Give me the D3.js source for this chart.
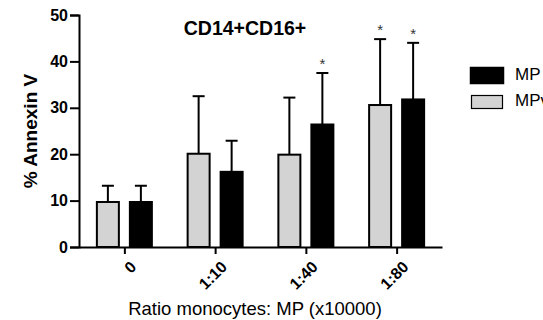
<!DOCTYPE html>
<html>
<head>
<meta charset="utf-8">
<script src="https://cdn.jsdelivr.net/npm/d3@7"></script>
<style>
  body { margin: 0; background: #fff; overflow: hidden; }
  text { font-family: Arial, "Liberation Sans", sans-serif; }
</style>
</head>
<body>
<svg id="chart" width="543" height="320"></svg>
<script>
// values
const categories = ["0", "1:10", "1:40", "1:80"];
const seriesNames = ["MPv", "MP"];
const mpvMeans = [9.7, 20.1, 19.9, 30.6];
const mpvErrors = [3.5, 12.4, 12.3, 14.2];
const mpMeans = [9.7, 16.2, 26.4, 31.8];
const mpErrors = [3.5, 6.7, 11.1, 12.2];
const mpvStars = [false, false, false, true];
const mpStars = [false, false, true, true];
const yTicks = [0, 10, 20, 30, 40, 50];

const svg = d3.select("#chart");
const plot = { left: 79, right: 442, top: 15, bottom: 247 };

const x = d3.scalePoint().domain(categories).range([plot.left, plot.right]).padding(0.5);
const sub = d3.scaleBand().domain(seriesNames).range([-27.5, 27.5]).paddingInner(1 / 3);
const y = d3.scaleLinear().domain([0, 50]).range([plot.bottom, plot.top]);

const fills = { MPv: "#d3d3d3", MP: "#000000" };

const rows = [];
categories.forEach((c, i) => {
    rows.push({ cat: c, series: "MPv", mean: mpvMeans[i], err: mpvErrors[i], star: mpvStars[i] });
    rows.push({ cat: c, series: "MP", mean: mpMeans[i], err: mpErrors[i], star: mpStars[i] });
});

// error bars (upper only)
rows.forEach(d => {
    const cx = x(d.cat) + sub(d.series) + sub.bandwidth() / 2;
    svg.append("line")
        .attr("x1", cx).attr("x2", cx)
        .attr("y1", y(d.mean)).attr("y2", y(d.mean + d.err))
        .attr("stroke", "#000").attr("stroke-width", 2);
    svg.append("line")
        .attr("x1", cx - 6).attr("x2", cx + 6)
        .attr("y1", y(d.mean + d.err)).attr("y2", y(d.mean + d.err))
        .attr("stroke", "#000").attr("stroke-width", 2);
    if (d.star) {
        svg.append("text")
            .attr("x", cx).attr("y", y(d.mean + d.err) - 4)
            .attr("text-anchor", "middle")
            .attr("font-size", 15)
            .attr("fill", "#333")
            .text("*");
    }
});

// bars
svg.selectAll("rect.bar").data(rows).enter().append("rect")
    .attr("class", "bar")
    .attr("x", d => x(d.cat) + sub(d.series))
    .attr("y", d => y(d.mean))
    .attr("width", sub.bandwidth())
    .attr("height", d => y(0) - y(d.mean))
    .attr("fill", d => fills[d.series])
    .attr("stroke", "#000")
    .attr("stroke-width", 2);

// y axis
const yAxis = svg.append("g")
    .attr("transform", `translate(${plot.left},0)`)
    .call(d3.axisLeft(y).tickValues(yTicks).tickSize(9).tickPadding(2));
yAxis.select(".domain").attr("stroke-width", 2);
yAxis.selectAll(".tick line").attr("stroke-width", 2);
yAxis.selectAll("text").attr("font-size", 16).attr("font-weight", "bold")
    .attr("fill", "#000").style("font-family", "Arial, 'Liberation Sans', sans-serif");

// x axis
const xAxis = svg.append("g")
    .attr("transform", `translate(0,${plot.bottom})`)
    .call(d3.axisBottom(x).tickSize(7).tickSizeOuter(0).tickFormat(""));
xAxis.select(".domain").attr("stroke-width", 2);
xAxis.selectAll(".tick line").attr("stroke-width", 2);

categories.forEach(c => {
    svg.append("text")
        .attr("transform", `translate(${x(c) + 5},${plot.bottom + 13}) rotate(-45)`)
        .attr("text-anchor", "end")
        .attr("dy", "0.7em")
        .attr("font-size", 16)
        .attr("font-weight", "bold")
        .text(c);
});

// titles
svg.append("text")
    .attr("x", 245).attr("y", 35)
    .attr("text-anchor", "middle")
    .attr("font-size", 19.5).attr("font-weight", "bold")
    .text("CD14+CD16+");

svg.append("text")
    .attr("transform", "translate(37,131) rotate(-90)")
    .attr("text-anchor", "middle")
    .attr("font-size", 19).attr("font-weight", "bold")
    .text("% Annexin V");

svg.append("text")
    .attr("x", 255).attr("y", 315)
    .attr("text-anchor", "middle")
    .attr("font-size", 18.5)
    .text("Ratio monocytes: MP (x10000)");

// legend
const legendItems = ["MP", "MPv"];
legendItems.forEach((name, i) => {
    const big = i === 0;
    svg.append("rect")
        .attr("x", big ? 470.5 : 471.5).attr("y", big ? 67.5 : 95.5)
        .attr("width", big ? 33 : 31).attr("height", big ? 16 : 13)
        .attr("fill", fills[name]).attr("stroke", "#000").attr("stroke-width", big ? 1.5 : 1.2);
    svg.append("text")
        .attr("x", 515).attr("y", big ? 80 : 106)
        .attr("font-size", 17)
        .text(name);
});
</script>
</body>
</html>
